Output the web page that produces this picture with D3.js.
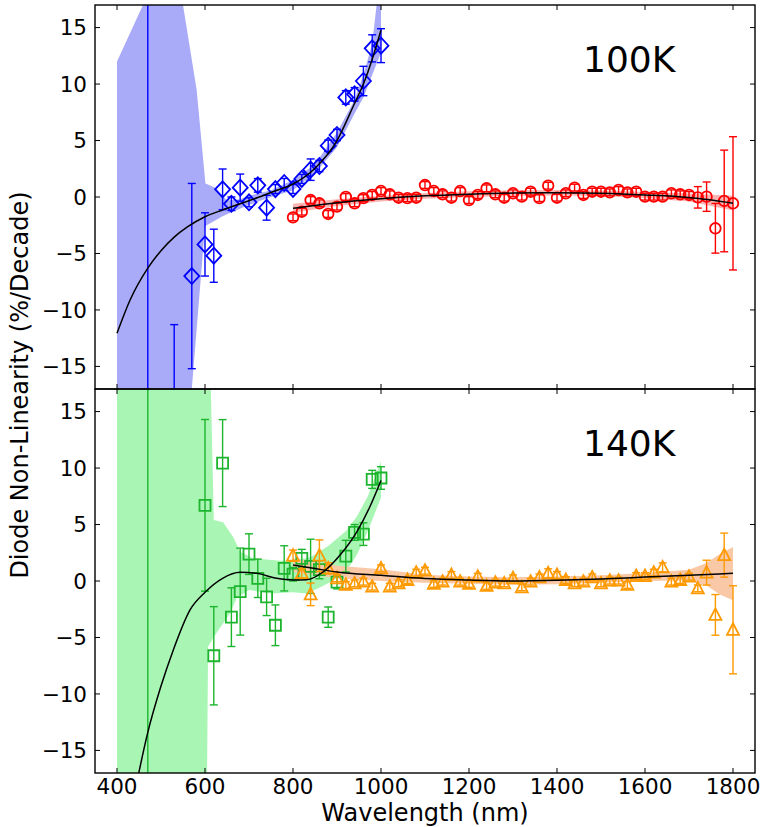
<!DOCTYPE html>
<html>
<head>
<meta charset="utf-8">
<script src="https://cdn.jsdelivr.net/npm/d3@7"></script>
<style>
  html, body { margin: 0; padding: 0; background: #fff; }
  svg text { font-family: "DejaVu Sans", sans-serif; fill: #000; }
</style>
</head>
<body>
<svg id="chart" width="762" height="827"></svg>
<script>
// ---- 100K panel: Si diode (diamonds) ----
const siWl100  = [470, 530, 570, 600, 620, 640, 660, 680, 700, 720, 740, 760, 780, 800, 820, 840, 860, 880, 900, 920, 940, 960, 980, 1000];
const siVal100 = [-25, -30, -7.0, -4.2, -5.2, 0.68, -0.6, 0.83, -0.47, 1.03, -0.95, 0.7, 1.24, 0.71, 1.6, 2.42, 2.74, 4.54, 5.49, 8.82, 9.09, 10.27, 13.16, 13.4];
const siErr100 = [50, 18.7, 8.2, 2.8, 2.35, 1.8, 0.6, 1.2, 0.4, 0.6, 1.1, 0.4, 0.4, 0.4, 0.4, 0.95, 0.5, 0.5, 0.5, 0.6, 0.6, 1.3, 1.2, 1.5];

// ---- shared wavelength grid of the InGaAs diode ----
const igaWl = [800, 820, 840, 860, 880, 900, 920, 940, 960, 980, 1000, 1020, 1040, 1060, 1080, 1100, 1120, 1140, 1160, 1180, 1200, 1220, 1240, 1260, 1280, 1300, 1320, 1340, 1360, 1380, 1400, 1420, 1440, 1460, 1480, 1500, 1520, 1540, 1560, 1580, 1600, 1620, 1640, 1660, 1680, 1700, 1720, 1740, 1760, 1780, 1800];

// ---- 100K panel: InGaAs diode (circles) ----
const igaVal100 = [-1.8, -1.3, -0.27, -0.56, -1.5, -0.85, 0.0, -0.56, -0.1, 0.18, 0.53, 0.24, -0.06, -0.1, -0.06, 1.06, 0.53, 0.24, -0.06, 0.53, -0.27, 0.18, 0.77, 0.24, -0.06, 0.33, 0.03, 0.47, -0.1, 1.0, -0.06, 0.33, 0.83, 0.18, 0.47, 0.47, 0.41, 0.62, 0.41, 0.47, 0.03, 0.03, 0.03, 0.33, 0.24, 0.18, -0.03, 0.03, -2.77, -0.35, -0.56];
const igaErr100 = [0.3, 0.3, 0.3, 0.3, 0.3, 0.3, 0.3, 0.3, 0.3, 0.3, 0.3, 0.3, 0.3, 0.3, 0.3, 0.3, 0.3, 0.3, 0.3, 0.3, 0.3, 0.3, 0.3, 0.3, 0.3, 0.3, 0.3, 0.3, 0.3, 0.3, 0.3, 0.3, 0.3, 0.3, 0.3, 0.3, 0.3, 0.3, 0.3, 0.3, 0.3, 0.3, 0.3, 0.3, 0.3, 0.3, 0.95, 1.3, 2.2, 4.5, 5.9];

// ---- 140K panel: Si diode (squares) ----
const siWl140  = [470, 600, 620, 640, 660, 680, 700, 720, 740, 760, 780, 800, 820, 840, 860, 880, 900, 920, 940, 960, 980, 1000];
const siVal140 = [-20, 6.7, -6.62, 10.44, -3.2, -0.94, 2.38, 0.24, -1.41, -3.92, 1.12, 0.6, 2.0, 1.3, 1.0, -3.2, -0.1, 2.2, 4.3, 4.15, 9.0, 9.12];
const siErr140 = [60, 7.6, 4.35, 3.85, 2.6, 3.85, 1.8, 1.7, 1.65, 1.8, 2.0, 0.6, 0.8, 2.4, 0.8, 0.9, 0.6, 1.4, 0.7, 1.0, 0.8, 1.0];

// ---- 140K panel: InGaAs diode (triangles) ----
const igaVal140 = [2.24, 0.68, -1.18, 2.24, 1.12, 0.24, -0.35, -0.21, -0.06, -0.5, 1.12, -0.5, -0.2, 0.09, 0.74, 0.91, -0.26, -0.06, 0.53, -0.06, -0.26, 0.38, -0.44, -0.15, -0.21, 0.24, -0.56, -0.06, 0.32, 0.68, 0.53, 0.09, -0.21, -0.06, 0.32, -0.21, 0.03, 0.03, -0.35, 0.44, 0.44, 0.74, 1.21, -0.06, 0.09, 0.38, -0.65, 0.74, -3.0, 2.29, -4.32];
const igaErr140 = [0.5, 0.4, 1.0, 1.4, 0.5, 0.3, 0.3, 0.3, 0.3, 0.3, 0.3, 0.3, 0.3, 0.3, 0.3, 0.3, 0.3, 0.3, 0.3, 0.3, 0.3, 0.3, 0.3, 0.3, 0.3, 0.3, 0.3, 0.3, 0.3, 0.4, 0.3, 0.3, 0.3, 0.3, 0.3, 0.3, 0.3, 0.3, 0.3, 0.3, 0.3, 0.3, 0.4, 0.3, 0.3, 0.3, 0.3, 1.1, 1.8, 1.95, 3.9];

// ---- polynomial fits [wavelength, value] ----
const fitSi100  = [[400, -12.07], [430, -9.1], [470, -6.3], [500, -4.75], [530, -3.55], [560, -2.65], [600, -1.75], [640, -1.15], [680, -0.6], [720, -0.05], [760, 0.55], [800, 1.15], [850, 2.55], [900, 5.0], [940, 8.3], [960, 10.0], [980, 12.2], [1000, 14.78]];
const fitIga100 = [[800, -1.0], [900, -0.5], [1000, -0.15], [1100, 0.1], [1200, 0.25], [1300, 0.35], [1400, 0.38], [1500, 0.33], [1600, 0.18], [1700, -0.05], [1800, -0.55]];
const fitSi140  = [[430, -20.8], [450, -16.9], [470, -13.4], [500, -9.3], [528, -6.1], [566, -2.56], [600, -1.0], [640, 0.24], [680, 0.77], [717, 0.68], [763, 0.24], [800, 0.09], [831, 0.12], [869, 0.82], [907, 2.3], [945, 4.35], [975, 6.6], [1000, 8.9]];
const fitIga140 = [[800, 1.41], [850, 1.1], [900, 0.8], [1000, 0.5], [1100, 0.22], [1200, 0.08], [1300, 0.0], [1400, 0.06], [1500, 0.18], [1600, 0.35], [1700, 0.52], [1800, 0.68]];

// ---- confidence bands: upper and lower edges [wavelength, value] ----
const bandSi100Hi  = [[400, 12.0], [459, 17.0], [475, 24], [540, 24], [550, 17.0], [581, 9.5], [601, 1.2], [625, 0.8], [650, -0.3], [680, -0.2], [700, 0.1], [750, 0.6], [800, 1.5], [850, 2.9], [900, 5.7], [940, 8.6], [960, 10.8], [980, 13.6], [990, 17], [1000, 20]];
const bandSi100Lo  = [[400, -40], [565, -40], [570, -17], [600, -2.6], [640, -1.7], [660, -1.35], [700, -0.7], [750, 0.0], [800, 0.6], [850, 2.1], [900, 4.4], [940, 7.4], [960, 8.8], [980, 10.8], [1000, 12.8]];
const bandIga100Hi = [[800, -0.6], [900, -0.2], [1000, 0.1], [1100, 0.35], [1200, 0.5], [1300, 0.6], [1400, 0.63], [1500, 0.58], [1600, 0.45], [1700, 0.3], [1750, 0.2], [1800, 0.1]];
const bandIga100Lo = [[800, -1.4], [900, -0.8], [1000, -0.4], [1100, -0.15], [1200, 0.0], [1300, 0.1], [1400, 0.13], [1500, 0.08], [1600, -0.1], [1700, -0.4], [1750, -0.8], [1800, -1.2]];
const bandSi140Hi  = [[400, 40], [600, 40], [620, 5.4], [641, 5.2], [664, 3.9], [680, 2.6], [710, 2.0], [740, 1.9], [770, 1.8], [800, 1.8], [840, 2.1], [880, 3.1], [920, 4.4], [945, 5.7], [970, 7.5], [1000, 10.6]];
const bandSi140Lo  = [[400, -40], [600, -40], [607, -5.8], [626, -4.6], [657, -2.85], [672, -1.5], [700, -0.8], [750, -1.1], [800, -1.0], [831, -1.1], [860, -0.6], [884, -0.1], [920, 0.8], [945, 2.3], [970, 4.4], [1000, 7.4]];
const bandIga140Hi = [[800, 2.0], [850, 1.7], [900, 1.35], [1000, 1.05], [1100, 0.55], [1200, 0.4], [1300, 0.33], [1400, 0.4], [1500, 0.5], [1600, 0.7], [1700, 1.0], [1740, 1.6], [1770, 2.4], [1800, 3.0]];
const bandIga140Lo = [[800, 0.8], [850, 0.5], [900, 0.25], [1000, 0.0], [1100, -0.15], [1200, -0.25], [1300, -0.33], [1400, -0.28], [1500, -0.15], [1600, 0.0], [1700, 0.05], [1740, -0.4], [1770, -1.2], [1800, -1.7]];

// ---- axes ----
const xTicks = [400, 600, 800, 1000, 1200, 1400, 1600, 1800];
const yTicks = [-15, -10, -5, 0, 5, 10, 15];
const panelLabels = ["100K", "140K"];

const svg = d3.select("#chart");
const left = 95, right = 755;
const x = d3.scaleLinear().domain([350, 1850]).range([left, right]);
const panels = [
  { top: 5, bottom: 389 },
  { top: 389, bottom: 773 }
];
panels.forEach(p => { p.y = d3.scaleLinear().domain([-17, 17]).range([p.bottom, p.top]); });

const colors = {
  blue: "#0000ff", blueFill: "#aaabf8",
  red: "#ff0000", redFill: "#f9b4b4",
  green: "#1db52e", greenFill: "#a9f6b4",
  orange: "#ff9900", orangeFill: "#f9c8a6"
};

const defs = svg.append("defs");
panels.forEach((p, i) => {
  defs.append("clipPath").attr("id", "clip" + i)
    .append("rect").attr("x", left).attr("y", p.top)
    .attr("width", right - left).attr("height", p.bottom - p.top);
});

const markerPaths = {
  diamond: "M0,-8L7.5,0L0,8L-7.5,0Z",
  square: "M-5.5,-5.5H5.5V5.5H-5.5Z",
  triangle: "M0,-6.5L6,5H-6Z"
};

function drawBand(g, y, hi, lo, fill) {
  const poly = hi.concat(lo.slice().reverse());
  g.append("path")
    .attr("d", d3.line().x(d => x(d[0])).y(d => y(d[1]))(poly) + "Z")
    .attr("fill", fill).attr("stroke", "none");
}

function drawFit(g, y, pts) {
  g.append("path")
    .attr("d", d3.line().x(d => x(d[0])).y(d => y(d[1])).curve(d3.curveMonotoneX)(pts))
    .attr("fill", "none").attr("stroke", "#000").attr("stroke-width", 1.5);
}

function drawSeries(g, y, wl, val, err, color, shape) {
  const data = wl.map((w, i) => ({ w, v: val[i], e: err[i] }));
  const eb = g.append("g").attr("stroke", color).attr("stroke-width", 1.4).attr("fill", "none");
  data.forEach(d => {
    const cx = x(d.w), y1 = y(d.v + d.e), y2 = y(d.v - d.e);
    eb.append("line").attr("x1", cx).attr("x2", cx).attr("y1", y1).attr("y2", y2);
    eb.append("line").attr("x1", cx - 4).attr("x2", cx + 4).attr("y1", y1).attr("y2", y1);
    eb.append("line").attr("x1", cx - 4).attr("x2", cx + 4).attr("y1", y2).attr("y2", y2);
  });
  const mk = g.append("g").attr("stroke", color).attr("stroke-width", 1.8).attr("fill", "none");
  data.forEach(d => {
    if (shape === "circle") {
      mk.append("circle").attr("cx", x(d.w)).attr("cy", y(d.v)).attr("r", 5.3);
    } else {
      mk.append("path").attr("d", markerPaths[shape])
        .attr("transform", `translate(${x(d.w)},${y(d.v)})`);
    }
  });
}

function drawAxes(p, i) {
  const g = svg.append("g");
  const y = p.y;
  // ticks pointing inward on all four sides
  xTicks.forEach(t => {
    g.append("line").attr("x1", x(t)).attr("x2", x(t)).attr("y1", p.bottom).attr("y2", p.bottom - 5)
      .attr("stroke", "#000").attr("stroke-width", 1);
    g.append("line").attr("x1", x(t)).attr("x2", x(t)).attr("y1", p.top).attr("y2", p.top + 5)
      .attr("stroke", "#000").attr("stroke-width", 1);
  });
  yTicks.forEach(t => {
    g.append("line").attr("x1", left).attr("x2", left + 5).attr("y1", y(t)).attr("y2", y(t))
      .attr("stroke", "#000").attr("stroke-width", 1);
    g.append("line").attr("x1", right).attr("x2", right - 5).attr("y1", y(t)).attr("y2", y(t))
      .attr("stroke", "#000").attr("stroke-width", 1);
    g.append("text").attr("x", left - 8).attr("y", y(t)).attr("dy", "0.36em")
      .attr("text-anchor", "end").attr("font-size", 21.5)
      .text(t < 0 ? "\u2212" + Math.abs(t) : String(t));
  });
  g.append("rect").attr("x", left).attr("y", p.top)
    .attr("width", right - left).attr("height", p.bottom - p.top)
    .attr("fill", "none").attr("stroke", "#000").attr("stroke-width", 1.4);
  g.append("text").attr("x", 583).attr("y", p.top + 67)
    .attr("font-size", 36).text(panelLabels[i]);
}

// top panel (100K)
const g0 = svg.append("g").attr("clip-path", "url(#clip0)");
const y0 = panels[0].y;
drawBand(g0, y0, bandSi100Hi, bandSi100Lo, colors.blueFill);
drawBand(g0, y0, bandIga100Hi, bandIga100Lo, colors.redFill);
drawSeries(g0, y0, siWl100, siVal100, siErr100, colors.blue, "diamond");
drawSeries(g0, y0, igaWl, igaVal100, igaErr100, colors.red, "circle");
drawFit(g0, y0, fitSi100);
drawFit(g0, y0, fitIga100);

// bottom panel (140K)
const g1 = svg.append("g").attr("clip-path", "url(#clip1)");
const y1 = panels[1].y;
drawBand(g1, y1, bandSi140Hi, bandSi140Lo, colors.greenFill);
drawBand(g1, y1, bandIga140Hi, bandIga140Lo, colors.orangeFill);
drawSeries(g1, y1, siWl140, siVal140, siErr140, colors.green, "square");
drawSeries(g1, y1, igaWl, igaVal140, igaErr140, colors.orange, "triangle");
drawFit(g1, y1, fitSi140);
drawFit(g1, y1, fitIga140);

panels.forEach(drawAxes);

// x tick labels under the bottom panel
xTicks.forEach(t => {
  svg.append("text").attr("x", x(t)).attr("y", 794)
    .attr("text-anchor", "middle").attr("font-size", 21.5).text(t);
});

svg.append("text").attr("x", 425).attr("y", 821)
  .attr("text-anchor", "middle").attr("font-size", 24).text("Wavelength (nm)");
svg.append("text").attr("transform", "translate(28,385) rotate(-90)")
  .attr("text-anchor", "middle").attr("font-size", 24).text("Diode Non-Linearity (%/Decade)");
</script>
</body>
</html>
